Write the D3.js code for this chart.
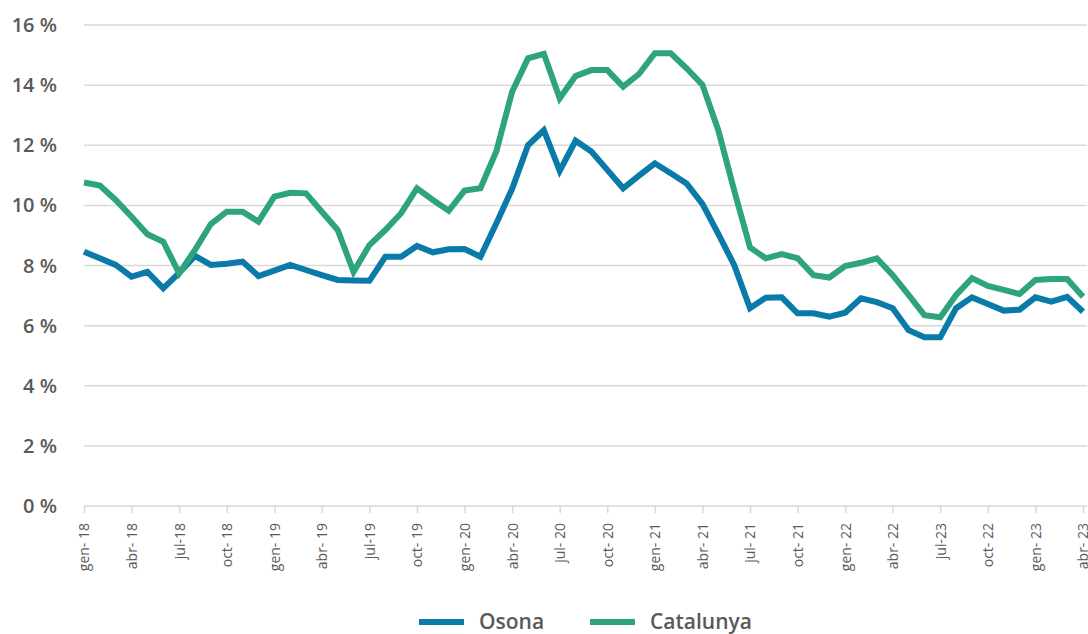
<!DOCTYPE html>
<html>
<head>
<meta charset="utf-8">
<script src="https://cdn.jsdelivr.net/npm/d3@7"></script>
<style>
	body { margin: 0; background: #ffffff; }
	svg { display: block; font-family: "Open Sans", sans-serif; }
</style>
</head>
<body>
<div class="chart"></div>
<script>
// monthly categories, gen-18 .. abr-23
var months = ["gen-18","feb-18","mar-18","abr-18","mai-18","jun-18","jul-18","ago-18","set-18","oct-18","nov-18","des-18",
			  "gen-19","feb-19","mar-19","abr-19","mai-19","jun-19","jul-19","ago-19","set-19","oct-19","nov-19","des-19",
			  "gen-20","feb-20","mar-20","abr-20","mai-20","jun-20","jul-20","ago-20","set-20","oct-20","nov-20","des-20",
			  "gen-21","feb-21","mar-21","abr-21","mai-21","jun-21","jul-21","ago-21","set-21","oct-21","nov-21","des-21",
			  "gen-22","feb-22","mar-22","abr-22","mai-22","jun-22","jul-22","ago-22","set-22","oct-22","nov-22","des-22",
			  "gen-23","feb-23","mar-23","abr-23"];

// tick labels as printed on the original (every 3 months)
var tickLabels = ["gen- 18","abr- 18","jul-18","oct- 18","gen- 19","abr- 19","jul-19","oct- 19",
				  "gen- 20","abr- 20","jul- 20","oct- 20","gen- 21","abr- 21","jul- 21","oct- 21",
				  "gen- 22","abr- 22","jul-23","oct- 22","gen- 23","abr- 23"];

var osona = [8.46, 8.24, 8.02, 7.63, 7.79, 7.24, 7.75, 8.32, 8.02, 8.06,
			 8.13, 7.65, 7.83, 8.02, 7.85, 7.68, 7.52, 7.50, 7.49, 8.29,
			 8.29, 8.65, 8.44, 8.54, 8.55, 8.29, 9.40, 10.55, 12.0, 12.5,
			 11.15, 12.15, 11.79, 11.18, 10.57, 10.99, 11.40, 11.07, 10.73, 10.05,
			 9.05, 8.02, 6.58, 6.93, 6.94, 6.41, 6.41, 6.30, 6.43, 6.91,
			 6.78, 6.58, 5.85, 5.61, 5.61, 6.58, 6.94, 6.72, 6.50, 6.53,
			 6.94, 6.80, 6.96, 6.46];

var catalunya = [10.76, 10.66, 10.18, 9.62, 9.04, 8.79, 7.74, 8.52, 9.38, 9.79,
				 9.79, 9.46, 10.29, 10.42, 10.40, 9.79, 9.18, 7.79, 8.68, 9.18,
				 9.74, 10.57, 10.18, 9.82, 10.49, 10.57, 11.79, 13.78, 14.89, 15.04,
				 13.56, 14.30, 14.50, 14.50, 13.95, 14.37, 15.06, 15.06, 14.56, 14.01,
				 12.5, 10.5, 8.6, 8.24, 8.38, 8.24, 7.68, 7.60, 7.98, 8.09,
				 8.24, 7.68, 7.02, 6.35, 6.28, 7.02, 7.58, 7.32, 7.19, 7.05,
				 7.52, 7.55, 7.55, 6.96];

var seriesNames = ["Osona", "Catalunya"];
var seriesColors = ["#0a7aa8", "#2ea47a"];
var yTicks = [0, 2, 4, 6, 8, 10, 12, 14, 16];

var width = 1088;
var height = 634;
var plotLeft = 84, plotRight = 1083, gridRight = 1087;
var plotTop = 25, plotBottom = 506;
var textColor = "#595959";

var svg = d3.select(".chart").append("svg")
	.attr("width", width)
	.attr("height", height);

var x = d3.scalePoint()
	.domain(months)
	.range([plotLeft, plotRight]);

var y = d3.scaleLinear()
	.domain([0, 16])
	.range([plotBottom, plotTop]);

// horizontal gridlines
svg.append("g")
	.selectAll("line")
	.data(yTicks.filter(function(d) { return d > 0; }))
	.enter().append("line")
	.attr("x1", plotLeft)
	.attr("x2", gridRight)
	.attr("y1", function(d) { return y(d); })
	.attr("y2", function(d) { return y(d); })
	.attr("stroke", "#d9d9d9")
	.attr("stroke-width", 1.5);

// y labels
svg.append("g")
	.selectAll("text")
	.data(yTicks)
	.enter().append("text")
	.attr("x", 57)
	.attr("y", function(d) { return y(d); })
	.attr("dy", "0.35em")
	.attr("text-anchor", "end")
	.attr("font-size", 20)
	.attr("font-weight", 600)
	.attr("fill", textColor)
	.text(function(d) { return d + " %"; });

// x axis
var tickMonths = months.filter(function(d, i) { return i % 3 === 0; });

var xAxis = d3.axisBottom(x)
	.tickValues(tickMonths)
	.tickSize(7)
	.tickSizeOuter(0)
	.tickFormat(function(d) { return tickLabels[tickMonths.indexOf(d)]; });

var axisG = svg.append("g")
	.attr("transform", "translate(0," + plotBottom + ")")
	.call(xAxis);

axisG.select(".domain").remove();
axisG.append("line")
	.attr("x1", plotLeft)
	.attr("x2", gridRight)
	.attr("stroke", "#d9d9d9")
	.attr("stroke-width", 1.5);

axisG.selectAll(".tick line")
	.attr("stroke", "#d9d9d9")
	.attr("stroke-width", 1.5);

axisG.selectAll(".tick text")
	.attr("transform", "rotate(-90)")
	.attr("x", -17)
	.attr("y", 0)
	.attr("dy", "0.35em")
	.attr("text-anchor", "end")
	.attr("font-family", "Open Sans")
	.attr("font-size", 14)
	.attr("font-weight", 500)
	.attr("fill", textColor);

// lines
var allSeries = [osona, catalunya];

var line = d3.line()
	.x(function(d, i) { return x(months[i]); })
	.y(function(d) { return y(d); });

svg.append("g")
	.selectAll("path")
	.data(allSeries)
	.enter().append("path")
	.attr("d", line)
	.attr("fill", "none")
	.attr("stroke", function(d, i) { return seriesColors[i]; })
	.attr("stroke-width", 6);

// legend
var legendX = [419, 590];
var legend = svg.append("g")
	.selectAll("g")
	.data(seriesNames)
	.enter().append("g")
	.attr("transform", function(d, i) { return "translate(" + legendX[i] + ",622)"; });

legend.append("rect")
	.attr("x", 0)
	.attr("y", -3)
	.attr("width", 45)
	.attr("height", 6)
	.attr("fill", function(d, i) { return seriesColors[i]; });

legend.append("text")
	.attr("x", 60)
	.attr("y", 0)
	.attr("dy", "0.35em")
	.attr("font-size", 21)
	.attr("font-weight", 600)
	.attr("fill", textColor)
	.text(function(d) { return d; });
</script>
</body>
</html>
